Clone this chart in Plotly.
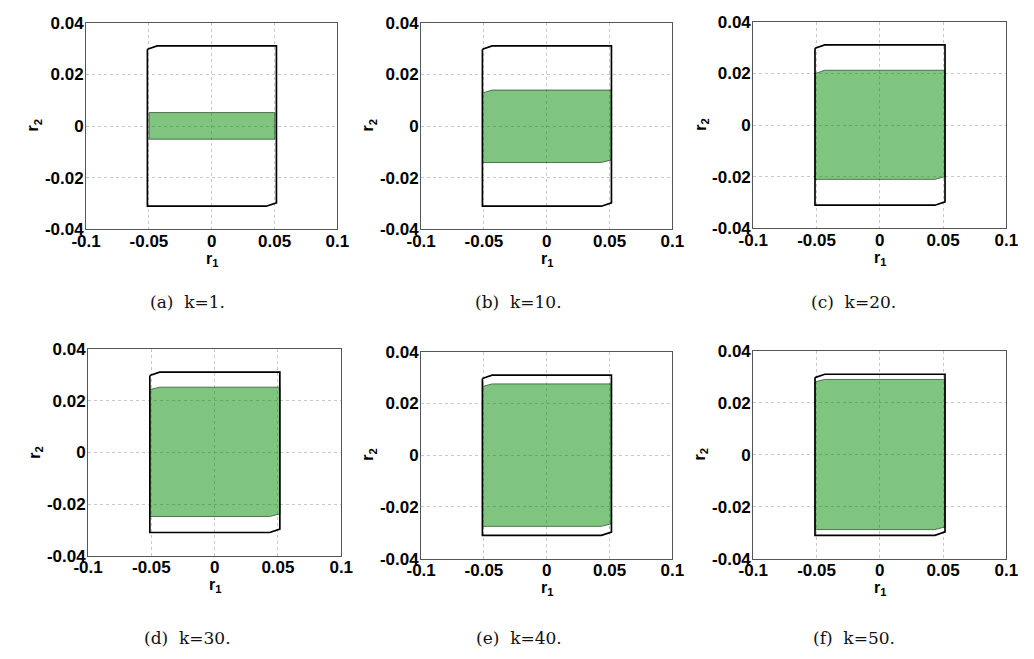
import plotly.graph_objects as go

W, H = 1034, 659

# ---- data ----
K_VALUES = [1, 10, 20, 30, 40, 50]
LETTERS = ["a", "b", "c", "d", "e", "f"]

# outer (black) polygon vertices
OUTER_X = [-0.0512, -0.0435, 0.0515, 0.0515, 0.0435, -0.0512, -0.0512]
OUTER_Y = [0.0297, 0.0310, 0.0310, -0.0297, -0.0310, -0.0310, 0.0297]

# green set per k
GREEN_LEFT = [-0.0498, -0.0512, -0.0512, -0.0512, -0.0512, -0.0512]
GREEN_RIGHT = [0.0503, 0.0515, 0.0515, 0.0515, 0.0515, 0.0515]
GREEN_TOP_CORNER_X = [-0.0498, -0.0435, -0.0435, -0.0435, -0.0435, -0.0435]
GREEN_BOT_CORNER_X = [0.0503, 0.0435, 0.0435, 0.0435, 0.0435, 0.0435]
GREEN_TOP = [0.0052, 0.0139, 0.0212, 0.0252, 0.0276, 0.0290]
GREEN_TOP_CORNER = [0.0052, 0.0128, 0.0199, 0.0243, 0.0266, 0.0281]
GREEN_BOTTOM = [-0.0051, -0.0141, -0.0210, -0.0248, -0.0275, -0.0288]
GREEN_BOTTOM_CORNER = [-0.0051, -0.0131, -0.0200, -0.0238, -0.0265, -0.0278]

X_TICKS = [-0.1, -0.05, 0, 0.05, 0.1]
X_TICK_TEXT = ["-0.1", "-0.05", "0", "0.05", "0.1"]
Y_TICKS = [-0.04, -0.02, 0, 0.02, 0.04]
Y_TICK_TEXT = ["-0.04", "-0.02", "0", "0.02", "0.04"]

# ---- layout (pixel boxes: left, right, top, bottom) ----
BOXES = [
    (73, 331, 14, 227),
    (417, 675, 14, 227),
    (758, 1018, 13, 226),
    (75, 335, 350, 563),
    (417, 675, 353, 566),
    (758, 1018, 352, 566),
]
CAPTION_X = [177, 517, 861, 177, 517, 861]
CAPTION_Y = [302, 302, 302, 648, 648, 648]

SANS = "Liberation Sans"
fig = go.Figure()
layout = dict(
    width=W, height=H,
    margin=dict(l=0, r=0, t=0, b=0),
    paper_bgcolor="white", plot_bgcolor="white",
    showlegend=False,
    font=dict(family=SANS, size=17, color="black"),
)
annotations = []
tickfont = dict(family=SANS, size=17, color="black", weight="bold")

for i, k in enumerate(K_VALUES):
    n = "" if i == 0 else str(i + 1)
    xa, ya = "x" + n, "y" + n
    l, r, t, b = BOXES[i]
    gx = [GREEN_LEFT[i], GREEN_TOP_CORNER_X[i], GREEN_RIGHT[i], GREEN_RIGHT[i],
          GREEN_BOT_CORNER_X[i], GREEN_LEFT[i], GREEN_LEFT[i]]
    gy = [GREEN_TOP_CORNER[i], GREEN_TOP[i], GREEN_TOP[i], GREEN_BOTTOM_CORNER[i],
          GREEN_BOTTOM[i], GREEN_BOTTOM[i], GREEN_TOP_CORNER[i]]
    fig.add_trace(go.Scatter(
        x=gx, y=gy, xaxis=xa, yaxis=ya, mode="lines", fill="toself",
        fillcolor="rgba(0,140,0,0.5)",
        line=dict(color="rgba(40,70,40,0.9)", width=0.8),
        hoverinfo="skip",
    ))
    fig.add_trace(go.Scatter(
        x=OUTER_X, y=OUTER_Y, xaxis=xa, yaxis=ya, mode="lines",
        line=dict(color="black", width=1.7), hoverinfo="skip",
    ))
    common = dict(
        showgrid=True, gridcolor="#c8c8c8", griddash="dot", gridwidth=1,
        zeroline=False, showline=True, linecolor="#555555", linewidth=1,
        mirror=True, ticks="", tickfont=tickfont, fixedrange=True,
    )
    layout["xaxis" + n] = dict(
        common, domain=[l / W, r / W], range=[-0.1, 0.1],
        tickvals=X_TICKS, ticktext=X_TICK_TEXT, ticklabelstandoff=-4,
        anchor=ya,
    )
    layout["yaxis" + n] = dict(
        common, domain=[1 - b / H, 1 - t / H], range=[-0.04, 0.04],
        tickvals=Y_TICKS, ticktext=Y_TICK_TEXT, ticklabelstandoff=-2,
        anchor=xa,
    )
    # axis titles
    annotations.append(dict(
        x=(l + r) / 2 / W, y=1 - (b + 31) / H, xref="paper", yref="paper",
        text="r<sub>1</sub>", showarrow=False,
        font=dict(family=SANS, size=16, color="black", weight="bold"),
        xanchor="center", yanchor="middle",
    ))
    annotations.append(dict(
        x=(l - 54) / W, y=1 - (t + b) / 2 / H, xref="paper", yref="paper",
        text="r<sub>2</sub>", showarrow=False, textangle=-90,
        font=dict(family=SANS, size=16, color="black", weight="bold"),
        xanchor="center", yanchor="middle",
    ))
    annotations.append(dict(
        x=CAPTION_X[i] / W, y=1 - CAPTION_Y[i] / H, xref="paper", yref="paper",
        text="(%s)  k=%d." % (LETTERS[i], k), showarrow=False,
        font=dict(family="DejaVu Serif", size=17, color="#111111"),
        xanchor="center", yanchor="middle",
    ))

layout["annotations"] = annotations
fig.update_layout(**layout)
fig.write_html("out.html")
